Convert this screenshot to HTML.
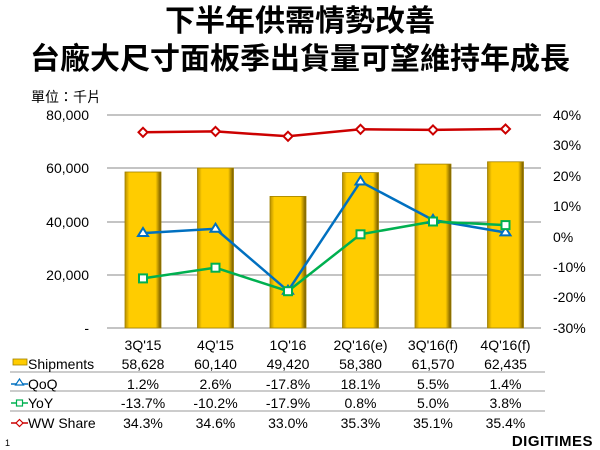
<!DOCTYPE html>
<html><head><meta charset="utf-8"><style>
body{margin:0;background:#fff;width:600px;height:450px;overflow:hidden}
svg{display:block}
text{font-family:"Liberation Sans","Noto Sans CJK TC",sans-serif;fill:#000}
</style></head><body>
<svg width="600" height="450" viewBox="0 0 600 450">
<defs>
<linearGradient id="g" x1="0" x2="1" y1="0" y2="0">
<stop offset="0" stop-color="#b89000"/><stop offset="0.12" stop-color="#ffcc00"/><stop offset="0.85" stop-color="#ffcc00"/><stop offset="1" stop-color="#6e5500"/>
</linearGradient>
</defs>
<text x="300" y="31" font-size="30" font-weight="bold" text-anchor="middle" style="font-family:'Noto Sans CJK TC',sans-serif">下半年供需情勢改善</text>
<text x="300" y="69" font-size="30" font-weight="bold" text-anchor="middle" style="font-family:'Noto Sans CJK TC',sans-serif">台廠大尺寸面板季出貨量可望維持年成長</text>
<text x="31" y="102" font-size="14" style="font-family:'Noto Sans CJK TC',sans-serif">單位：千片</text>
<g stroke="#888" stroke-width="1">
<line x1="107" x2="541" y1="115" y2="115"/><line x1="107" x2="541" y1="168" y2="168"/><line x1="107" x2="541" y1="222" y2="222"/><line x1="107" x2="541" y1="275" y2="275"/><line x1="107" x2="541" y1="328" y2="328"/>
</g>
<g font-size="14" text-anchor="end">
<text x="89" y="120">80,000</text><text x="89" y="173">60,000</text><text x="89" y="227">40,000</text><text x="89" y="280">20,000</text><text x="89" y="333">-</text>
</g>
<g font-size="14">
<text x="553" y="120">40%</text><text x="553" y="150">30%</text><text x="553" y="181">20%</text><text x="553" y="211">10%</text><text x="553" y="242">0%</text><text x="553" y="272">-10%</text><text x="553" y="302">-20%</text><text x="553" y="333">-30%</text>
</g>
<g fill="url(#g)" stroke="#a08000" stroke-width="0.8">
<rect x="125" y="172" width="36" height="156"/>
<rect x="197.5" y="168" width="36" height="160"/>
<rect x="270" y="196.4" width="36" height="131.6"/>
<rect x="342.5" y="172.6" width="36" height="155.4"/>
<rect x="415" y="164.1" width="36" height="163.9"/>
<rect x="487.5" y="161.8" width="36" height="166.2"/>
</g>
<polyline fill="none" stroke="#cc0000" stroke-width="2.5" points="143,132.3 215.5,131.4 288,136.3 360.5,129.3 433,129.9 505.5,129"/>
<polyline fill="none" stroke="#0070c0" stroke-width="2.5" points="143,233.1 215.5,228.8 288,290.9 360.5,181.6 433,220 505.5,232.5"/>
<polyline fill="none" stroke="#00b050" stroke-width="2.5" points="143,278.4 215.5,267.7 288,291.2 360.5,234.3 433,221.5 505.5,225.1"/>
<g fill="#fff" stroke="#cc0000" stroke-width="2">
<path d="M143,127.8l4.5,4.5l-4.5,4.5l-4.5,-4.5z"/><path d="M215.5,126.9l4.5,4.5l-4.5,4.5l-4.5,-4.5z"/><path d="M288,131.8l4.5,4.5l-4.5,4.5l-4.5,-4.5z"/><path d="M360.5,124.8l4.5,4.5l-4.5,4.5l-4.5,-4.5z"/><path d="M433,125.4l4.5,4.5l-4.5,4.5l-4.5,-4.5z"/><path d="M505.5,124.5l4.5,4.5l-4.5,4.5l-4.5,-4.5z"/>
</g>
<g fill="#fff" stroke="#0070c0" stroke-width="2">
<path d="M143,228l5,8h-10z"/><path d="M215.5,223.7l5,8h-10z"/><path d="M288,285.8l5,8h-10z"/><path d="M360.5,176.5l5,8h-10z"/><path d="M433,214.9l5,8h-10z"/><path d="M505.5,227.4l5,8h-10z"/>
</g>
<g fill="#fff" stroke="#00b050" stroke-width="2">
<rect x="139" y="274.4" width="8" height="8"/><rect x="211.5" y="263.7" width="8" height="8"/><rect x="284" y="287.2" width="8" height="8"/><rect x="356.5" y="230.3" width="8" height="8"/><rect x="429" y="217.5" width="8" height="8"/><rect x="501.5" y="221.1" width="8" height="8"/>
</g>
<g font-size="14" text-anchor="middle">
<text x="143" y="350">3Q'15</text><text x="215.5" y="350">4Q'15</text><text x="288" y="350">1Q'16</text><text x="360.5" y="350">2Q'16(e)</text><text x="433" y="350">3Q'16(f)</text><text x="505.5" y="350">4Q'16(f)</text>
<text x="143" y="369">58,628</text><text x="215.5" y="369">60,140</text><text x="288" y="369">49,420</text><text x="360.5" y="369">58,380</text><text x="433" y="369">61,570</text><text x="505.5" y="369">62,435</text>
<text x="143" y="389">1.2%</text><text x="215.5" y="389">2.6%</text><text x="288" y="389">-17.8%</text><text x="360.5" y="389">18.1%</text><text x="433" y="389">5.5%</text><text x="505.5" y="389">1.4%</text>
<text x="143" y="408">-13.7%</text><text x="215.5" y="408">-10.2%</text><text x="288" y="408">-17.9%</text><text x="360.5" y="408">0.8%</text><text x="433" y="408">5.0%</text><text x="505.5" y="408">3.8%</text>
<text x="143" y="428">34.3%</text><text x="215.5" y="428">34.6%</text><text x="288" y="428">33.0%</text><text x="360.5" y="428">35.3%</text><text x="433" y="428">35.1%</text><text x="505.5" y="428">35.4%</text>
</g>
<g stroke="#999" stroke-width="1">
<line x1="10" x2="545" y1="372" y2="372"/><line x1="10" x2="545" y1="391" y2="391"/><line x1="10" x2="545" y1="411" y2="411"/>
</g>
<g font-size="14">
<text x="28" y="369">Shipments</text><text x="28" y="389">QoQ</text><text x="28" y="408">YoY</text><text x="28" y="428">WW Share</text>
</g>
<rect x="13" y="359" width="14" height="6" fill="#ffcc00" stroke="#a08000" stroke-width="0.8"/>
<line x1="11" x2="28" y1="384" y2="384" stroke="#0070c0" stroke-width="1.5"/><path d="M19.5,379l4,6h-8z" fill="#fff" stroke="#0070c0" stroke-width="1.2"/>
<line x1="11" x2="28" y1="403" y2="403" stroke="#00b050" stroke-width="1.5"/><rect x="16.5" y="400" width="6" height="6" fill="#fff" stroke="#00b050" stroke-width="1.2"/>
<line x1="11" x2="28" y1="423" y2="423" stroke="#cc0000" stroke-width="1.5"/><path d="M19.5,419.5l3.5,3.5l-3.5,3.5l-3.5,-3.5z" fill="#fff" stroke="#cc0000" stroke-width="1.2"/>
<text x="5" y="446" font-size="9">1</text>
<text x="593" y="446" font-size="15" font-weight="bold" text-anchor="end" style="letter-spacing:0.5px">DIGITIMES</text>
</svg>
</body></html>
